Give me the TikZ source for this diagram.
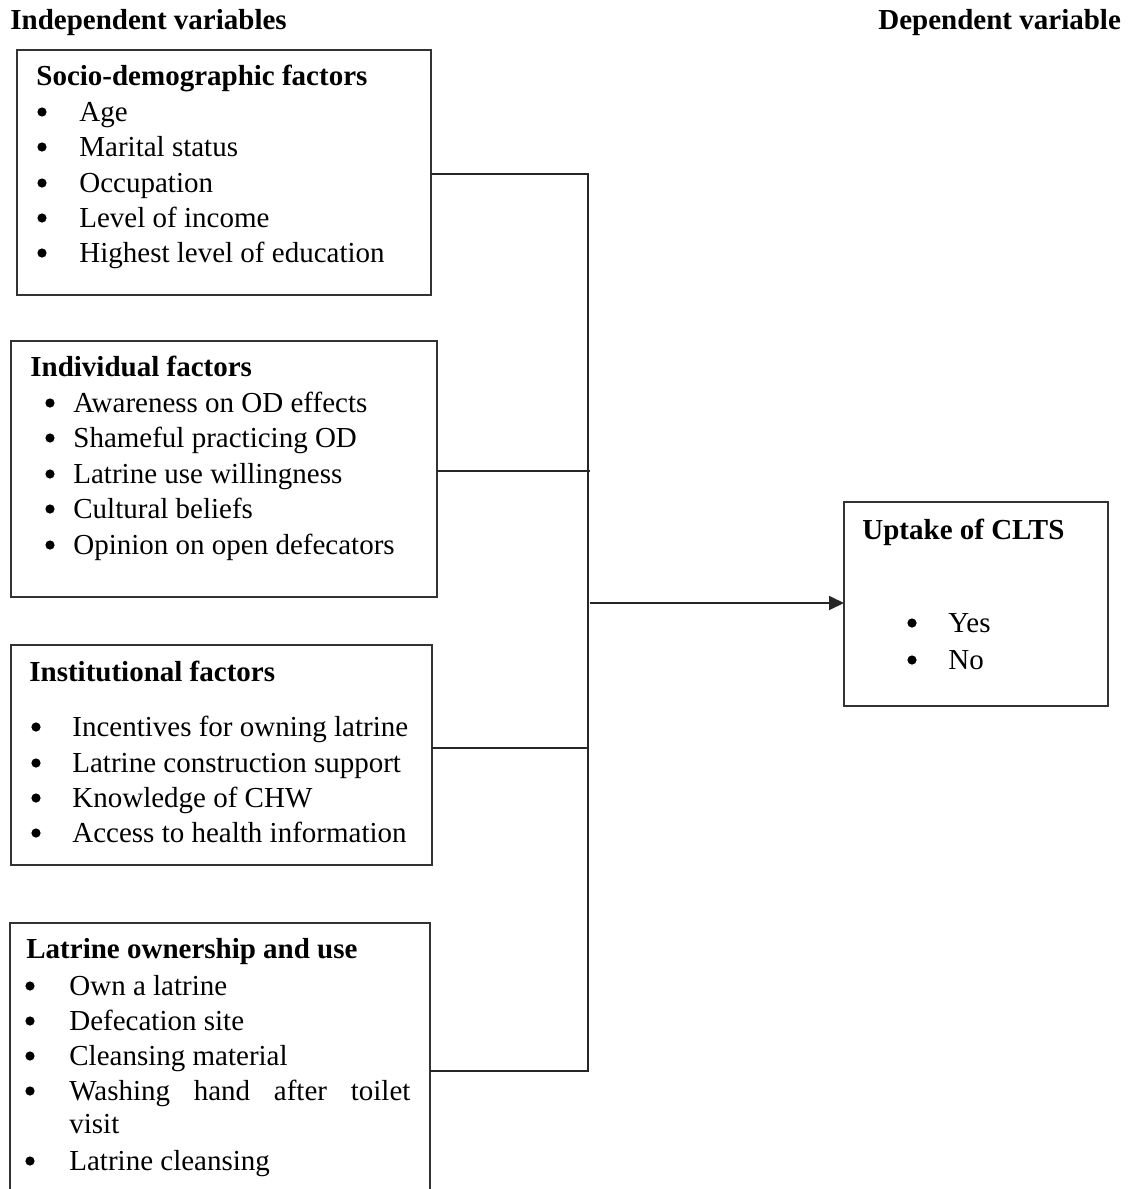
\documentclass[tikz,border=0pt]{standalone}
\usepackage{fontspec}
\setmainfont{Liberation Serif}
\usetikzlibrary{arrows.meta}
\begin{document}
\begin{tikzpicture}[x=0.5pt,y=-0.5pt,
  box/.style={draw=black!80,line width=0.9pt,inner sep=0pt,outer sep=0pt,anchor=north west},
  txt/.style={anchor=base west,inner sep=0pt,font=\fontsize{14.5pt}{17.5pt}\selectfont},
  hd/.style={anchor=base west,inner sep=0pt,font=\fontsize{14.5pt}{17.5pt}\selectfont\bfseries},
  dot/.style={circle,fill=black,inner sep=0pt,minimum size=4.6pt},
  link/.style={draw=black!85,line width=0.9pt}]
\useasboundingbox (0,0) rectangle (1132,1189);

% headers
\node[hd] (hind) at (10,29) {Independent variables};
\node[hd] (hdep) at (878,29) {Dependent variable};

% boxes
\node[box,minimum width=207pt,minimum height=122.5pt] (b1) at (17,50) {};
\node[box,minimum width=213pt,minimum height=128pt] (b2) at (11,341) {};
\node[box,minimum width=210.5pt,minimum height=110pt] (b3) at (11,645) {};
\node[box,minimum width=210pt,minimum height=150pt] (b4) at (10,923) {};
\node[box,minimum width=132pt,minimum height=102pt] (b5) at (844,502) {};

% box 1
\node[hd] (t1) at (36,85) {Socio-demographic factors};
\foreach \y/\t [count=\i] in {121/Age,156/Marital status,192/Occupation,227/Level of income,262/Highest level of education}{
  \node[dot] (b1d\i) at (42,\y-9) {};
  \node[txt] (b1t\i) at (79,\y) {\t};
}

% box 2
\node[hd] (t2) at (30,376) {Individual factors};
\foreach \y/\t [count=\i] in {412/Awareness on OD effects,447/Shameful practicing OD,483/Latrine use willingness,518/Cultural beliefs,554/Opinion on open defecators}{
  \node[dot] (b2d\i) at (50,\y-9) {};
  \node[txt] (b2t\i) at (73,\y) {\t};
}

% box 3
\node[hd] (t3) at (29,681) {Institutional factors};
\foreach \y/\t [count=\i] in {736/Incentives for owning latrine,772/Latrine construction support,807/Knowledge of CHW,842/Access to health information}{
  \node[dot] (b3d\i) at (36,\y-9) {};
  \node[txt] (b3t\i) at (72,\y) {\t};
}

% box 4
\node[hd] (t4) at (26,958) {Latrine ownership and use};
\foreach \y/\t [count=\i] in {995/Own a latrine,1030/Defecation site,1065/Cleansing material}{
  \node[dot] (b4d\i) at (30,\y-9) {};
  \node[txt] (b4t\i) at (69,\y) {\t};
}
\node[dot] (b4d4) at (30,1091) {};
\node[txt] (b4t4) at (69,1100) {\makebox[170.5pt][s]{Washing hand after toilet}};
\node[txt] (b4t4b) at (69,1133) {visit};
\node[dot] (b4d5) at (30,1161) {};
\node[txt] (b4t5) at (69,1170) {Latrine cleansing};

% box 5
\node[hd] (t5) at (862,539) {Uptake of CLTS};
\node[dot] (b5d1) at (912,623) {};
\node[txt] (b5t1) at (948,632) {Yes};
\node[dot] (b5d2) at (912,660) {};
\node[txt] (b5t2) at (948,669) {No};

% connectors
\coordinate (j1) at (588,174);
\coordinate (j2) at (588,471);
\coordinate (j3) at (588,748);
\coordinate (j4) at (588,1071);
\coordinate (jm) at (588,603);
\draw[link] (b1.east |- j1) -- (j1) -- (j4) -- (b4.east |- j4);
\draw[link] (b2.east |- j2) -- ([xshift=1pt]j2);
\draw[link] (b3.east |- j3) -- (j3);
\draw[link,-{Triangle[length=7.5pt,width=7pt]}] ([xshift=1pt]jm) -- (b5.west |- jm);
\end{tikzpicture}
\end{document}
